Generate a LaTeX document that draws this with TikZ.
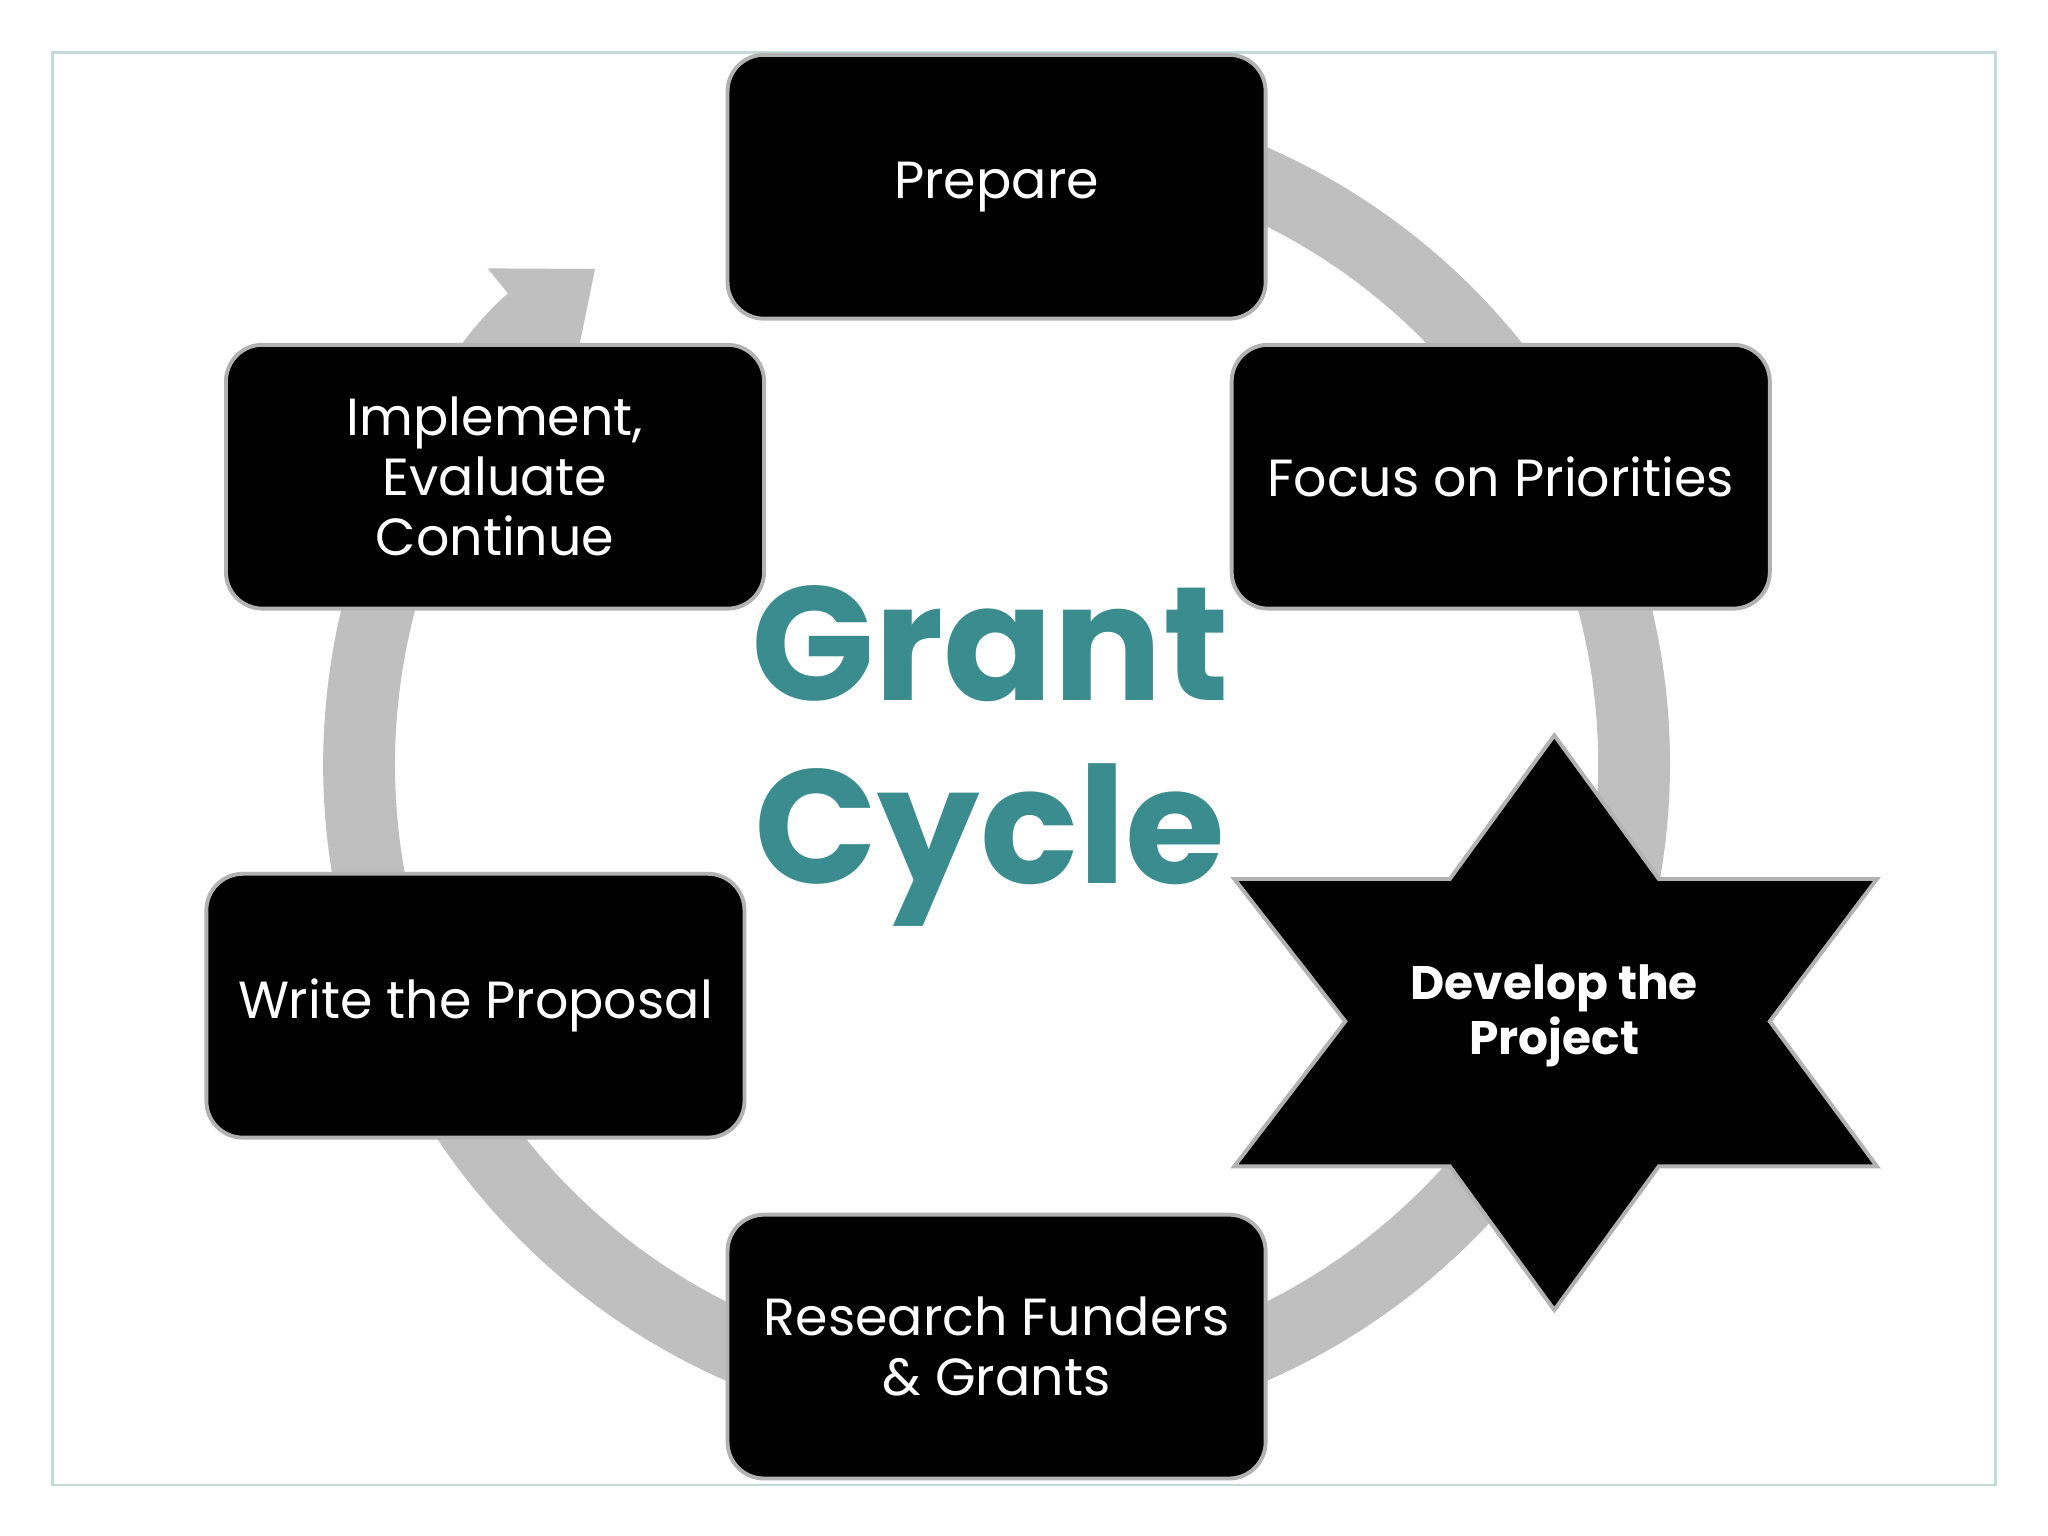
\documentclass[tikz,border=0pt]{standalone}
\usepackage{fontspec}
\setmainfont{Poppins}
\usetikzlibrary{arrows.meta}
\definecolor{teal1}{RGB}{58,140,142}
\tikzset{
 box/.style={draw=gray!60, line width=1.5pt, fill=black, rounded corners=14pt, minimum width=206pt, minimum height=101pt, text=white, align=center, font=\fontsize{20}{23}\selectfont, inner sep=2pt},
}
\begin{document}
\begin{tikzpicture}[x=0.5pt,y=0.5pt]
\useasboundingbox (0,0) rectangle (1568,1176);
\draw[gray!45!teal!30, line width=1pt] (40,39) rectangle (1528,1136);
\coordinate (c) at (763,591);
\draw[gray!50, line width=27.5pt, -{Triangle[width=50pt,length=32pt]}] (c) ++(80:488) arc[start angle=80, end angle=-231, radius=488];
\node[box] (prep) at (763,1033) {Prepare};
\node[box] (focus) at (1149,811) {Focus on Priorities};
\node[box] (impl) at (379,811) {Implement,\\Evaluate\\Continue};
\node[box] (write) at (364,406) {Write the Proposal};
\node[box] (res) at (763,145) {Research Funders\\\& Grants};
\draw[fill=black, draw=gray!60, line width=1.5pt] (1190,613) -- (1270,503) -- (1437,503) -- (1355,394) -- (1437,283) -- (1270,283) -- (1190,173) -- (1110,283) -- (945,283) -- (1030,394) -- (945,503) -- (1110,503) -- cycle;
\node[text=white, align=center, font=\fontsize{18}{21}\selectfont\bfseries] (dev) at (1190,398) {Develop the\\Project};
\node[text=teal1, align=center, font=\fontsize{62}{70}\selectfont\bfseries] (gc) at (758,597) {Grant\\Cycle};
\end{tikzpicture}
\end{document}
